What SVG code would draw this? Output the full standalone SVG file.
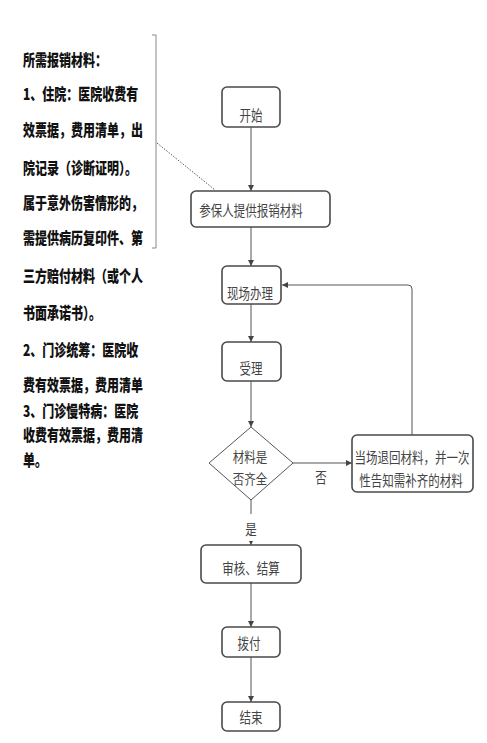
<svg xmlns="http://www.w3.org/2000/svg" width="487" height="743" viewBox="0 0 487 743">
<defs>
<marker id="arr" markerUnits="userSpaceOnUse" markerWidth="7" markerHeight="6" refX="6" refY="3" orient="auto">
<path d="M0,0 L6,3 L0,6 Z" fill="#444"/>
</marker>
<style>
.note{font-family:"Noto Sans CJK SC","Noto Sans",sans-serif;font-size:12px;font-weight:900;fill:#111}
.lbl{font-family:"Noto Sans CJK SC","Noto Sans",sans-serif;font-size:11.5px;fill:#444;text-anchor:middle}
.box{fill:#fff;stroke:#4a4a4a;stroke-width:1.6}
.ln{fill:none;stroke:#555;stroke-width:1}
</style>
</defs>
<rect width="487" height="743" fill="#fff"/>
<g id="note">
<text class="note" transform="translate(23,66) scale(1,1.35)">所需报销材料：</text>
<text class="note" transform="translate(23,100) scale(1,1.35)">1、住院：医院收费有</text>
<text class="note" transform="translate(23,136) scale(1,1.35)">效票据，费用清单，出</text>
<text class="note" transform="translate(23,174) scale(1,1.35)">院记录（诊断证明）。</text>
<text class="note" transform="translate(23,209) scale(1,1.35)">属于意外伤害情形的，</text>
<text class="note" transform="translate(23,244) scale(1,1.35)">需提供病历复印件、第</text>
<text class="note" transform="translate(23,282) scale(1,1.35)">三方赔付材料（或个人</text>
<text class="note" transform="translate(23,319) scale(1,1.35)">书面承诺书）。</text>
<text class="note" transform="translate(23,356) scale(1,1.35)">2、门诊统筹：医院收</text>
<text class="note" transform="translate(23,391) scale(1,1.35)">费有效票据，费用清单</text>
<text class="note" transform="translate(23,417) scale(1,1.35)">3、门诊慢特病：医院</text>
<text class="note" transform="translate(23,441) scale(1,1.35)">收费有效票据，费用清</text>
<text class="note" transform="translate(23,466) scale(1,1.35)">单。</text>
<path d="M152,35 H156 V248 H152" fill="none" stroke="#888" stroke-width="1"/>
</g>
<g id="connectors">
<path class="ln" d="M157,143 L215,190" stroke-dasharray="1.5,1.5" stroke="#444"/>
<path class="ln" d="M251,127 V191" marker-end="url(#arr)"/>
<path class="ln" d="M251,227 V266" marker-end="url(#arr)"/>
<path class="ln" d="M251,304 V342" marker-end="url(#arr)"/>
<path class="ln" d="M251,381 V427" marker-end="url(#arr)"/>
<path class="ln" d="M251,500 V545" marker-end="url(#arr)"/>
<rect x="243" y="514" width="16" height="27" fill="#fff"/>
<text class="lbl" transform="translate(251,535) scale(1,1.3)">是</text>
<path class="ln" d="M293,463 H352" marker-end="url(#arr)"/>
<text class="lbl" transform="translate(321,483) scale(1,1.3)">否</text>
<path class="ln" d="M412,435 V289 Q412,285 408,285 H282" marker-end="url(#arr)"/>
<path class="ln" d="M251,583 V627" marker-end="url(#arr)"/>
<path class="ln" d="M251,657 V702" marker-end="url(#arr)"/>
</g>
<g id="start">
<rect class="box" x="222" y="87" width="58" height="40" rx="5"/>
<text class="lbl" transform="translate(251,121) scale(1,1.3)">开始</text>
</g>
<g id="submit">
<rect class="box" x="191" y="191" width="139" height="36" rx="5"/>
<text class="lbl" transform="translate(251,216) scale(1,1.3)">参保人提供报销材料</text>
</g>
<g id="onsite">
<rect class="box" x="222" y="266" width="59" height="38" rx="5"/>
<text class="lbl" transform="translate(250,299) scale(1,1.3)">现场办理</text>
</g>
<g id="accept">
<rect class="box" x="222" y="342" width="59" height="39" rx="5"/>
<text class="lbl" transform="translate(251,374) scale(1,1.3)">受理</text>
</g>
<g id="check">
<path d="M251,427 L293,463 L251,500 L209,463 Z" fill="#fff" stroke="#555" stroke-width="1"/>
<text class="lbl" transform="translate(250,462) scale(1,1.15)">材料是</text>
<text class="lbl" transform="translate(250,484) scale(1,1.15)">否齐全</text>
</g>
<g id="return">
<rect class="box" x="352" y="435" width="121" height="57" rx="5"/>
<text class="lbl" transform="translate(412,463) scale(1,1.3)">当场退回材料，并一次</text>
<text class="lbl" transform="translate(411,486) scale(1,1.3)">性告知需补齐的材料</text>
</g>
<g id="audit">
<rect class="box" x="201" y="545" width="100" height="38" rx="5"/>
<text class="lbl" transform="translate(251,574) scale(1,1.3)">审核、结算</text>
</g>
<g id="pay">
<rect class="box" x="222" y="627" width="58" height="30" rx="5"/>
<text class="lbl" transform="translate(249,649) scale(1,1.3)">拨付</text>
</g>
<g id="end">
<rect class="box" x="222" y="702" width="58" height="29" rx="5"/>
<text class="lbl" transform="translate(251,723) scale(1,1.3)">结束</text>
</g>
</svg>
